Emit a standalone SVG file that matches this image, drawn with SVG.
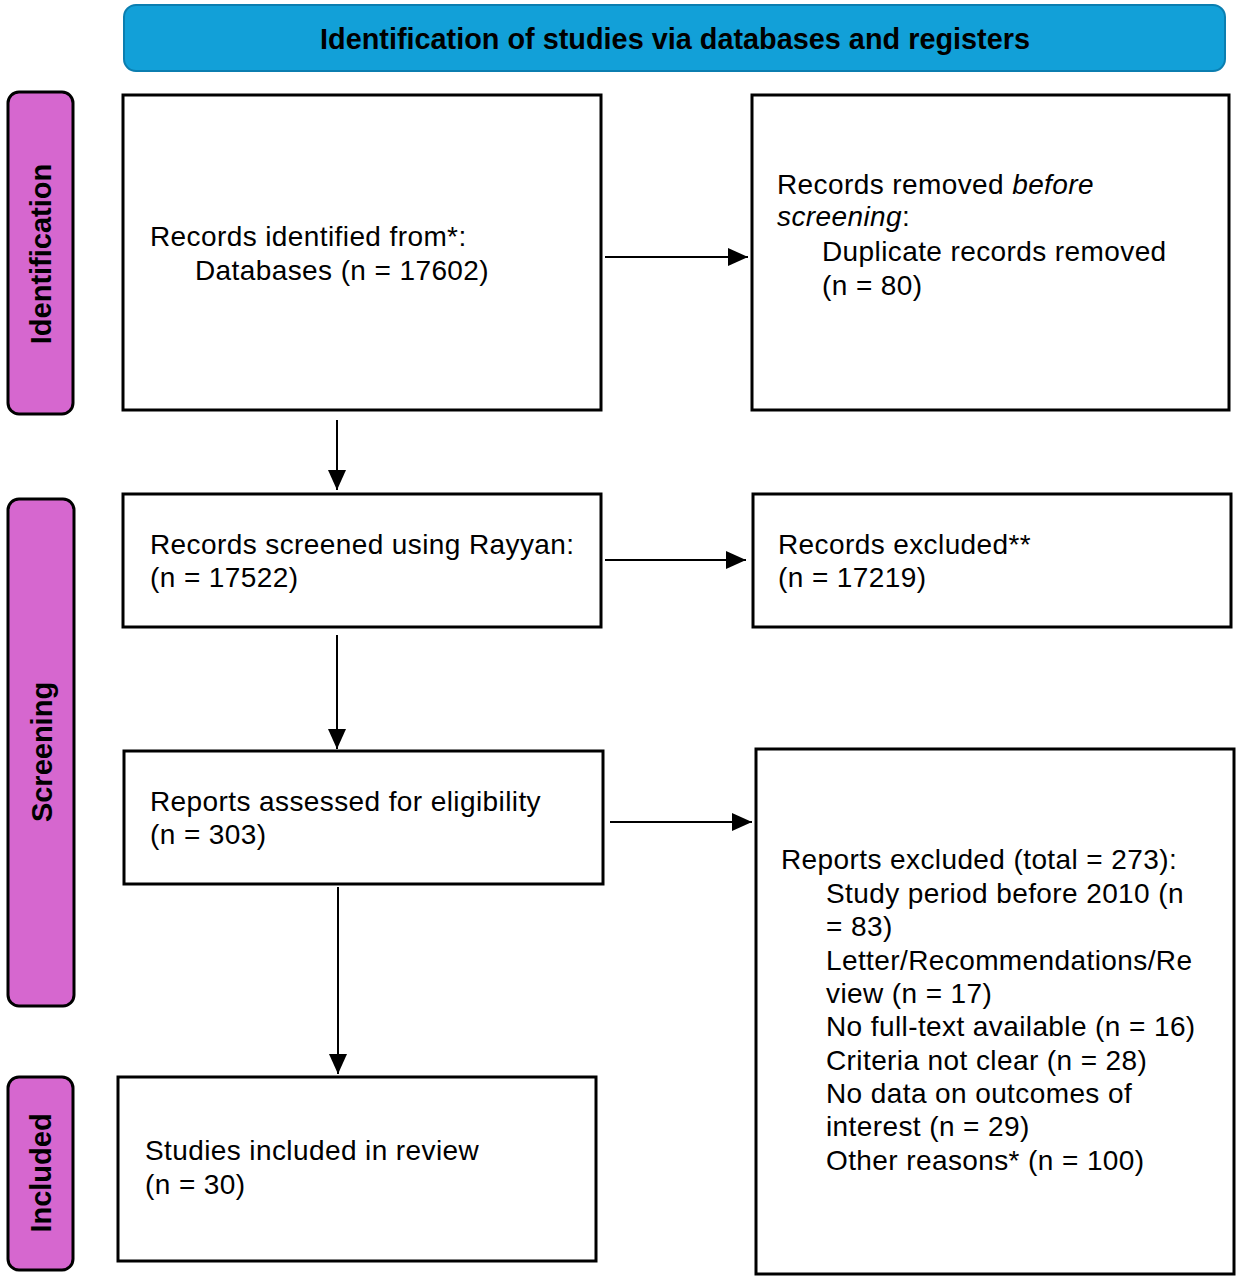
<svg xmlns="http://www.w3.org/2000/svg" width="1241" height="1280" viewBox="0 0 1241 1280">
<style>
.box{fill:#fff;stroke:#000;stroke-width:3}
.side{fill:#d667cf;stroke:#000;stroke-width:3}
.t{font-family:"Liberation Sans",Arial,sans-serif;font-size:28px;letter-spacing:0.4px;fill:#000}
.st{font-family:"Liberation Sans",Arial,sans-serif;font-size:29px;font-weight:bold;fill:#000}
.bt{font-family:"Liberation Sans",Arial,sans-serif;font-size:30px;font-weight:bold;fill:#000}
.c{stroke:#000;stroke-width:2;fill:none}
</style>
<defs>
<marker id="ah" viewBox="0 0 20 18" refX="20" refY="9" markerWidth="20" markerHeight="18" markerUnits="userSpaceOnUse" orient="auto">
<path d="M0,0 L20,9 L0,18 Z" fill="#000"/>
</marker>
</defs>
<rect width="1241" height="1280" fill="#fff"/>
<g id="banner">
<rect x="124" y="5" width="1101" height="66" rx="12" fill="#12a0d8" stroke="#0b7eb0" stroke-width="2"/>
<text x="675" y="49" class="bt" text-anchor="middle" textLength="710" lengthAdjust="spacingAndGlyphs">Identification of studies via databases and registers</text>
</g>
<g id="side-identification">
<rect x="8" y="92" width="65" height="322" rx="11" class="side"/>
<text class="st" transform="translate(51,254) rotate(-90)" text-anchor="middle">Identification</text>
</g>
<g id="side-screening">
<rect x="8" y="499" width="66" height="507" rx="11" class="side"/>
<text class="st" transform="translate(52,752) rotate(-90)" text-anchor="middle">Screening</text>
</g>
<g id="side-included">
<rect x="8" y="1077" width="65" height="193" rx="11" class="side"/>
<text class="st" transform="translate(51,1173) rotate(-90)" text-anchor="middle">Included</text>
</g>
<g id="records-identified">
<rect x="123" y="95" width="478" height="315" class="box"/>
<text class="t" x="150" y="246">Records identified from*:</text>
<text class="t" x="195" y="280">Databases (n = 17602)</text>
</g>
<g id="records-removed">
<rect x="752" y="95" width="477" height="315" class="box"/>
<text class="t" x="777" y="194">Records removed <tspan font-style="italic">before</tspan></text>
<text class="t" x="777" y="226"><tspan font-style="italic">screening</tspan>:</text>
<text class="t" x="822" y="261">Duplicate records removed</text>
<text class="t" x="822" y="295">(n = 80)</text>
</g>
<g id="records-screened">
<rect x="123" y="494" width="478" height="133" class="box"/>
<text class="t" x="150" y="554">Records screened using Rayyan:</text>
<text class="t" x="150" y="587">(n = 17522)</text>
</g>
<g id="records-excluded">
<rect x="753" y="494" width="478" height="133" class="box"/>
<text class="t" x="778" y="554">Records excluded**</text>
<text class="t" x="778" y="587">(n = 17219)</text>
</g>
<g id="reports-assessed">
<rect x="124" y="751" width="479" height="133" class="box"/>
<text class="t" x="150" y="811">Reports assessed for eligibility</text>
<text class="t" x="150" y="844">(n = 303)</text>
</g>
<g id="reports-excluded">
<rect x="756" y="749" width="478" height="525" class="box"/>
<text class="t" x="781" y="869">Reports excluded (total = 273):</text>
<text class="t" x="826" y="903">Study period before 2010 (n</text>
<text class="t" x="826" y="936">= 83)</text>
<text class="t" x="826" y="970">Letter/Recommendations/Re</text>
<text class="t" x="826" y="1003">view (n = 17)</text>
<text class="t" x="826" y="1036">No full-text available (n = 16)</text>
<text class="t" x="826" y="1070">Criteria not clear (n = 28)</text>
<text class="t" x="826" y="1103">No data on outcomes of</text>
<text class="t" x="826" y="1136">interest (n = 29)</text>
<text class="t" x="826" y="1170">Other reasons* (n = 100)</text>
</g>
<g id="studies-included">
<rect x="118" y="1077" width="478" height="184" class="box"/>
<text class="t" x="145" y="1160">Studies included in review</text>
<text class="t" x="145" y="1194">(n = 30)</text>
</g>
<g id="connectors">
<line class="c" x1="605" y1="257" x2="748" y2="257" marker-end="url(#ah)"/>
<line class="c" x1="337" y1="420" x2="337" y2="490" marker-end="url(#ah)"/>
<line class="c" x1="605" y1="560" x2="746" y2="560" marker-end="url(#ah)"/>
<line class="c" x1="337" y1="635" x2="337" y2="749" marker-end="url(#ah)"/>
<line class="c" x1="610" y1="822" x2="752" y2="822" marker-end="url(#ah)"/>
<line class="c" x1="338" y1="887" x2="338" y2="1074" marker-end="url(#ah)"/>
</g>
</svg>
